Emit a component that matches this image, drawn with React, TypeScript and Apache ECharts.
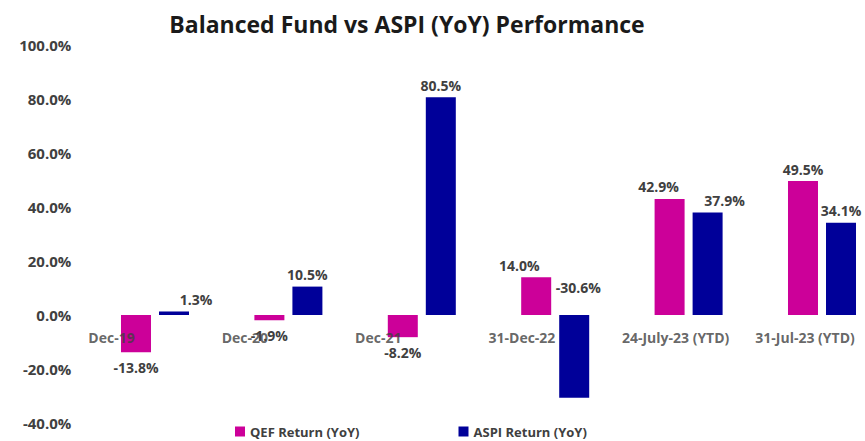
import React, { useEffect, useRef } from "react";
import * as echarts from "echarts";

const categories = ["Dec-19", "Dec-20", "Dec-21", "31-Dec-22", "24-July-23 (YTD)", "31-Jul-23 (YTD)"];
const qefReturn = [-13.8, -1.9, -8.2, 14.0, 42.9, 49.5];
const aspiReturn = [1.3, 10.5, 80.5, -30.6, 37.9, 34.1];
const seriesNames = ["QEF Return (YoY)", "ASPI Return (YoY)"];
const yTicks = { min: -40, max: 100, interval: 20 };

const FONT = "Open Sans";
const TEXT = "#404040";
const QEF_COLOR = "#CC0099";
const ASPI_COLOR = "#000099";

// label nudges (styling only)
const qefOffsets = [[0, 0], [0, 0], [0, 0], [-17, 0], [-11, 0], [0, 0]];
const aspiOffsets = [[22, 0], [0, 0], [0, 0], [4, -13], [17, 0], [0, 0]];

const fmt = (v: number) => v.toFixed(1) + "%";

function buildData(values: number[], offsets: number[][]) {
  return values.map((v, i) => ({
    value: v,
    label: {
      position: v >= 0 || offsets[i][1] !== 0 ? "top" : "bottom",
      distance: v >= 0 ? 5 : 8,
      offset: offsets[i],
    },
  }));
}

export default function App() {
  const ref = useRef<HTMLDivElement>(null);
  useEffect(() => {
    if (!ref.current) return;
    const chart = echarts.init(ref.current, null, { renderer: "svg" });
    const labelStyle = {
      show: true,
      fontFamily: FONT,
      fontWeight: "bold" as const,
      fontSize: 14,
      color: TEXT,
      formatter: (p: any) => fmt(p.value),
    };
    chart.setOption({
      animation: false,
      backgroundColor: "#ffffff",
      title: {
        text: "Balanced Fund vs ASPI (YoY) Performance",
        left: 402,
        textAlign: "center",
        top: 7,
        textStyle: { fontFamily: FONT, fontWeight: "bold", fontSize: 23, color: "#1a1a1a" },
      },
      legend: {
        data: seriesNames,
        left: 235,
        top: 425,
        padding: 0,
        itemWidth: 10,
        itemHeight: 10,
        itemGap: 99,
        icon: "rect",
        textStyle: { fontFamily: FONT, fontWeight: "bold", fontSize: 13, color: TEXT },
      },
      grid: {
        left: 88.3,
        right: -23.7,
        top: 44.5,
        bottom: 17.8,
        containLabel: false,
        outerBoundsMode: "none",
      },
      xAxis: [
        {
          type: "category",
          data: categories,
          axisLine: { show: false },
          axisTick: { show: false },
          axisLabel: { show: false },
          splitLine: { show: false },
        },
        {
          type: "category",
          data: [...categories, ""],
          boundaryGap: false,
          show: false,
        },
      ],
      yAxis: {
        type: "value",
        min: yTicks.min,
        max: yTicks.max,
        interval: yTicks.interval,
        axisLine: { show: false },
        axisTick: { show: false },
        splitLine: { show: false },
        axisLabel: {
          margin: 17,
          fontFamily: FONT,
          fontWeight: "bold",
          fontSize: 15,
          color: TEXT,
          formatter: (v: number) => fmt(v),
        },
      },
      series: [
        {
          name: seriesNames[0],
          type: "bar",
          xAxisIndex: 0,
          barWidth: 30,
          barGap: "26.7%",
          itemStyle: { color: QEF_COLOR },
          label: labelStyle,
          data: buildData(qefReturn, qefOffsets),
        },
        {
          name: seriesNames[1],
          type: "bar",
          xAxisIndex: 0,
          barWidth: 30,
          barGap: "26.7%",
          itemStyle: { color: ASPI_COLOR },
          label: labelStyle,
          data: buildData(aspiReturn, aspiOffsets),
        },
        {
          name: "category-labels",
          type: "scatter",
          xAxisIndex: 1,
          yAxisIndex: 0,
          silent: true,
          symbolSize: 0,
          z: 5,
          label: {
            show: true,
            position: "bottom",
            align: "left",
            distance: 15,
            fontFamily: FONT,
            fontWeight: "bold",
            fontSize: 14,
            color: TEXT,
            formatter: (p: any) => p.name,
          },
          data: categories.map((c) => ({ name: c, value: [c, 0] })),
        },
      ],
    });
    return () => chart.dispose();
  }, []);
  return (
    <div
      ref={ref}
      style={{ position: "absolute", left: 0, top: 0, width: 865, height: 441 }}
    />
  );
}
